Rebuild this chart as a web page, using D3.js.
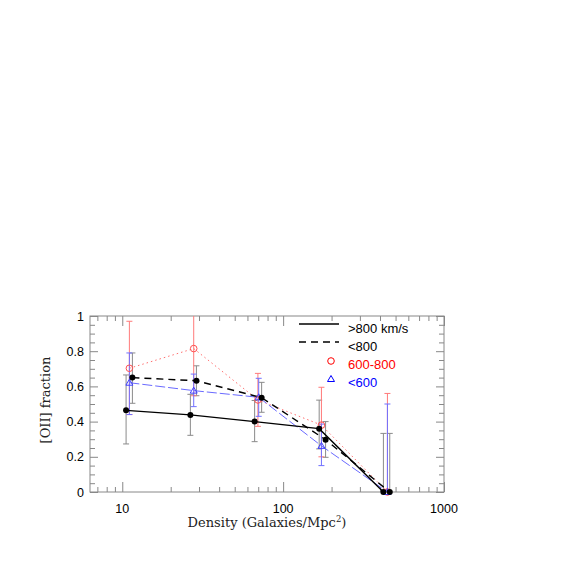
<!DOCTYPE html>
<html>
<head>
<meta charset="utf-8">
<script src="https://cdn.jsdelivr.net/npm/d3@7"></script>
<style>
  body { margin: 0; background: #fff; }
</style>
</head>
<body>
<div class="my_div"></div>
<script>
// Series labels, as in the legend
var seriesNames = [">800 km/s", "<800", "600-800", "<600"];

// >800 km/s (solid line, black dots)
var solidX  = [10.56, 26.5, 66.5, 167.5, 420];
var solidY  = [0.464, 0.438, 0.40, 0.36, 0];
var solidHi = [0.665, 0.555, 0.52, 0.522, 0.333];
var solidLo = [0.273, 0.322, 0.286, 0.245, 0];

// <800 (dashed line, black dots)
var dashX  = [11.56, 28.9, 73.5, 183.6, 460];
var dashY  = [0.65, 0.632, 0.536, 0.297, 0];
var dashHi = [0.79, 0.717, 0.623, 0.40, 0.333];
var dashLo = [0.504, 0.547, 0.453, 0.197, 0];

// 600-800 (dotted red, circles)
var redX  = [11.07, 27.8, 69.7, 173, 445];
var redY  = [0.703, 0.815, 0.523, 0.38, 0];
var redHi = [0.97, 1.0, 0.674, 0.595, 0.56];
var redLo = [0.44, 0.547, 0.373, 0.2, 0];

// <600 (dashed blue, triangles)
var blueX  = [11.07, 27.8, 70.5, 173, 445];
var blueY  = [0.621, 0.576, 0.538, 0.262, 0];
var blueHi = [0.79, 0.67, 0.646, 0.386, 0.50];
var blueLo = [0.44, 0.485, 0.43, 0.15, 0];

var yTicks = [0, 0.2, 0.4, 0.6, 0.8, 1];
var xTicks = [10, 100, 1000];

function zipSeries(xs, ys, his, los) {
    return xs.map(function (x, i) { return { x: x, y: ys[i], hi: his[i], lo: los[i] }; });
}

var series = [
    { name: seriesNames[0], data: zipSeries(solidX, solidY, solidHi, solidLo),
      line: "#000", dash: null, lw: 1.4, bar: "#8a8a8a", mark: "dot" },
    { name: seriesNames[1], data: zipSeries(dashX, dashY, dashHi, dashLo),
      line: "#000", dash: "7,5", lw: 1.4, bar: "#8a8a8a", mark: "dot" },
    { name: seriesNames[2], data: zipSeries(redX, redY, redHi, redLo),
      line: "#ff7070", dash: "1.5,3", lw: 1, bar: "#ff7a7a", mark: "circle" },
    { name: seriesNames[3], data: zipSeries(blueX, blueY, blueHi, blueLo),
      line: "#6a6aff", dash: "10,3", lw: 1, bar: "#7070ff", mark: "tri" }
];

var W = 581, H = 581;
var padLeft = 90, padTop = 316, width = 354, height = 176;

var xScale = d3.scaleLog().domain([6.3, 1000]).range([0, width]);
var yScale = d3.scaleLinear().domain([0, 1]).range([height, 0]);

var svg = d3.select(".my_div").append("svg")
    .attr("width", W).attr("height", H);

var g = svg.append("g").attr("transform", "translate(" + padLeft + "," + padTop + ")");

// minor tick values for the log axis
var xMinor = [];
[1, 10, 100].forEach(function (dec) {
    for (var k = 2; k <= 9; k++) {
        var v = dec * k;
        if (v > 6.3 && v < 1000) xMinor.push(v);
    }
});
var yMinor = d3.range(0, 1.0001, 0.05).filter(function (v) {
    return Math.abs(v * 5 - Math.round(v * 5)) > 1e-6;
});

var axisColor = "#888";

function styleAxis(sel) {
    sel.select(".domain").remove();
    sel.selectAll("line").attr("stroke", axisColor);
    sel.selectAll("text").remove();
}

// bottom / top ticks
g.append("g").attr("transform", "translate(0," + height + ")")
    .call(d3.axisBottom(xScale).tickValues(xTicks).tickSize(-10)).call(styleAxis);
g.append("g").attr("transform", "translate(0," + height + ")")
    .call(d3.axisBottom(xScale).tickValues(xMinor).tickSize(-5)).call(styleAxis);
g.append("g")
    .call(d3.axisTop(xScale).tickValues(xTicks).tickSize(-10)).call(styleAxis);
g.append("g")
    .call(d3.axisTop(xScale).tickValues(xMinor).tickSize(-5)).call(styleAxis);

// left / right ticks
g.append("g").call(d3.axisLeft(yScale).tickValues(yTicks).tickSize(-8)).call(styleAxis);
g.append("g").call(d3.axisLeft(yScale).tickValues(yMinor).tickSize(-5)).call(styleAxis);
g.append("g").attr("transform", "translate(" + width + ",0)")
    .call(d3.axisRight(yScale).tickValues(yTicks).tickSize(-8)).call(styleAxis);
g.append("g").attr("transform", "translate(" + width + ",0)")
    .call(d3.axisRight(yScale).tickValues(yMinor).tickSize(-5)).call(styleAxis);

// frame
g.append("rect")
    .attr("width", width).attr("height", height)
    .attr("fill", "none").attr("stroke", axisColor).attr("stroke-width", 1);

// tick labels
var fmt = function (v) { return v === 0 ? "0" : v === 1 ? "1" : d3.format(".1f")(v); };
g.selectAll(".ylab").data(yTicks).enter().append("text")
    .attr("x", -6).attr("y", function (d) { return yScale(d) + 4.5; })
    .attr("text-anchor", "end")
    .attr("font-family", "Liberation Sans, Arial, sans-serif")
    .attr("font-size", 12.5)
    .text(fmt);
g.selectAll(".xlab").data(xTicks).enter().append("text")
    .attr("x", function (d) { return xScale(d); }).attr("y", height + 21)
    .attr("text-anchor", "middle")
    .attr("font-family", "Liberation Sans, Arial, sans-serif")
    .attr("font-size", 12.5)
    .text(function (d) { return d; });

// axis titles
var xTitle = g.append("text")
    .attr("x", 177).attr("y", height + 35)
    .attr("text-anchor", "middle")
    .attr("font-family", "DejaVu Serif, serif")
    .attr("font-size", 13)
    .attr("fill", "#222");
xTitle.append("tspan").text("Density (Galaxies/Mpc");
xTitle.append("tspan").attr("font-size", 8.5).attr("dy", -5).text("2");
xTitle.append("tspan").attr("dy", 5).text(")");

g.append("text")
    .attr("transform", "translate(-40," + (height / 2 - 4) + ") rotate(-90)")
    .attr("text-anchor", "middle")
    .attr("font-family", "DejaVu Serif, serif")
    .attr("font-size", 13)
    .attr("fill", "#222")
    .text("[OII] fraction");

var plot = g.append("g");

// error bars
series.forEach(function (s) {
    var eb = plot.append("g").attr("stroke", s.bar).attr("stroke-width", 1);
    s.data.forEach(function (d) {
        var x = xScale(d.x);
        eb.append("line").attr("x1", x).attr("x2", x)
            .attr("y1", yScale(d.hi)).attr("y2", yScale(d.lo));
        [d.hi, d.lo].forEach(function (v) {
            if (v <= 0 || v >= 1) return;
            eb.append("line").attr("x1", x - 3).attr("x2", x + 3)
                .attr("y1", yScale(v)).attr("y2", yScale(v));
        });
    });
});

var line = d3.line()
    .x(function (d) { return xScale(d.x); })
    .y(function (d) { return yScale(d.y); });

// lines, coloured ones first
[2, 3, 1, 0].forEach(function (i) {
    var s = series[i];
    plot.append("path").datum(s.data)
        .attr("d", line)
        .attr("fill", "none")
        .attr("stroke", s.line)
        .attr("stroke-width", s.lw)
        .attr("stroke-dasharray", s.dash);
});

function drawMark(sel, type, x, y, color) {
    if (type === "dot") {
        sel.append("circle").attr("cx", x).attr("cy", y).attr("r", 3).attr("fill", "#000");
    } else if (type === "circle") {
        sel.append("circle").attr("cx", x).attr("cy", y).attr("r", 3.3)
            .attr("fill", "none").attr("stroke", color).attr("stroke-width", 1);
    } else {
        sel.append("path")
            .attr("d", "M" + x + "," + (y - 3.5) + "L" + (x + 3.5) + "," + (y + 2.5) + "L" + (x - 3.5) + "," + (y + 2.5) + "Z")
            .attr("fill", "none").attr("stroke", color).attr("stroke-width", 1);
    }
}

[2, 3, 1, 0].forEach(function (i) {
    var s = series[i];
    var c = i === 2 ? "#ff5050" : i === 3 ? "#4040ff" : "#000";
    s.data.forEach(function (d) { drawMark(plot, s.mark, xScale(d.x), yScale(d.y), c); });
});

// legend
var leg = g.append("g").attr("transform", "translate(209,8)");
var legText = ["#000", "#000", "#ff0000", "#0000ff"];
series.forEach(function (s, i) {
    var yy = i * 18;
    if (i < 2) {
        leg.append("line").attr("x1", 0).attr("x2", 40).attr("y1", yy).attr("y2", yy)
            .attr("stroke", "#000").attr("stroke-width", 1.4)
            .attr("stroke-dasharray", s.dash);
    } else {
        drawMark(leg, s.mark, 32, yy + 1, legText[i]);
    }
    leg.append("text")
        .attr("x", 49).attr("y", yy + 9)
        .attr("font-family", "Liberation Sans, Arial, sans-serif")
        .attr("font-size", 13)
        .attr("fill", legText[i])
        .text(s.name);
});
</script>
</body>
</html>
